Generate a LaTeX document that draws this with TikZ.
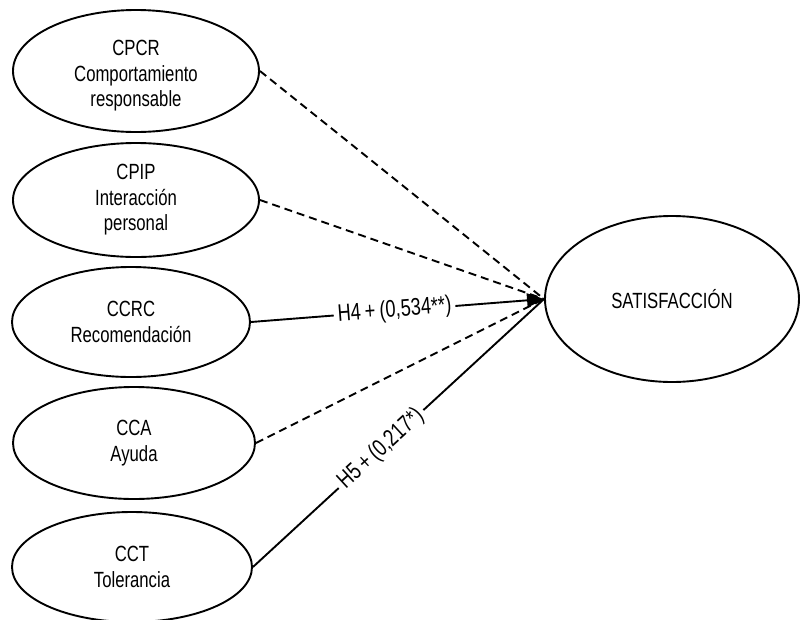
\documentclass[tikz,border=0pt]{standalone}
\usepackage{fontspec}
\setmainfont[FakeStretch=0.76]{Liberation Sans}
\usetikzlibrary{shapes.geometric,arrows.meta}
\begin{document}
\begin{tikzpicture}[x=1pt,y=-1pt,
  construct/.style={draw,ellipse,line width=1.9pt,inner sep=0pt,align=center,
    font=\fontsize{22}{25.5}\selectfont},
  plaintext/.style={inner sep=0pt,align=center,font=\fontsize{22}{25.5}\selectfont},
  dashlink/.style={line width=1.9pt,dash pattern=on 8pt off 5pt},
  solidlink/.style={line width=1.9pt},
  coef/.style={fill=white,inner xsep=4pt,inner ysep=1pt,font=\fontsize{24}{26}\selectfont}]
\useasboundingbox (0,0) rectangle (801,619);
\node[construct,minimum width=246pt,minimum height=122pt] (cpcr) at (136,71) {};
\node[plaintext] (cpcrtext) at (136,76) {CPCR\\Comportamiento\\responsable};
\node[construct,minimum width=246pt,minimum height=114pt] (cpip) at (136,200) {CPIP\\Interacción\\personal};
\node[construct,minimum width=238pt,minimum height=110pt] (ccrc) at (131,322) {CCRC\\Recomendación};
\node[construct,minimum width=242pt,minimum height=112pt] (cca) at (134,443) {CCA\\Ayuda};
\node[construct,minimum width=240pt,minimum height=110pt] (cct) at (132,567) {CCT\\Tolerancia};
\node[construct,minimum width=254pt,minimum height=166pt] (sat) at (672,299) {SATISFACCIÓN};
\coordinate (tip) at (sat.west);
\draw[dashlink] (cpcr.east) -- (tip);
\draw[dashlink] (cpip.east) -- (tip);
\draw[dashlink] (cca.east) -- (tip);
\draw[solidlink] (cct.east) -- node[coef,sloped,pos=0.44] {H5\,+\,(0,217*)} (tip);
\draw[solidlink,-{Triangle[length=17pt,width=14pt]}] (ccrc.east) -- node[coef,sloped,pos=0.49] {H4\,+\,(0,534**)} (tip);
\end{tikzpicture}
\end{document}
